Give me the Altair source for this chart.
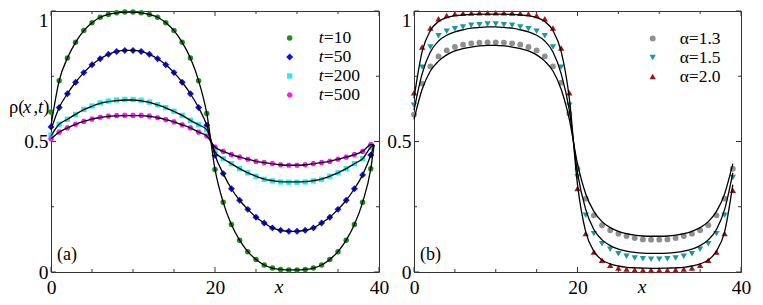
import altair as alt
import pandas as pd

FONT = "Liberation Serif"

# ---------------- data: panel (a) ----------------
x_pts = list(range(40))
x_line_a = list(range(40)) + [39.4]

t_names = ["t10", "t50", "t200", "t500"]
t_labels = ["=10", "=50", "=200", "=500"]

rho_t10 = [0.613, 0.733, 0.820, 0.880, 0.925, 0.955, 0.976, 0.987, 0.993, 0.996,
           0.996, 0.993, 0.987, 0.976, 0.955, 0.925, 0.880, 0.820, 0.733, 0.607,
           0.393, 0.267, 0.182, 0.122, 0.078, 0.048, 0.027, 0.015, 0.010, 0.008,
           0.008, 0.010, 0.015, 0.027, 0.048, 0.078, 0.122, 0.182, 0.267, 0.396]
rho_t50 = [0.556, 0.630, 0.683, 0.727, 0.764, 0.794, 0.817, 0.834, 0.845, 0.849,
           0.849, 0.845, 0.834, 0.817, 0.794, 0.764, 0.727, 0.683, 0.630, 0.562,
           0.447, 0.377, 0.319, 0.275, 0.240, 0.210, 0.188, 0.169, 0.160, 0.156,
           0.156, 0.160, 0.169, 0.188, 0.210, 0.240, 0.275, 0.319, 0.372, 0.448]
rho_t200 = [0.525, 0.566, 0.585, 0.604, 0.623, 0.636, 0.648, 0.655, 0.659, 0.661,
            0.661, 0.658, 0.651, 0.641, 0.630, 0.616, 0.600, 0.581, 0.564, 0.545,
            0.460, 0.434, 0.415, 0.396, 0.380, 0.367, 0.355, 0.349, 0.345, 0.344,
            0.344, 0.345, 0.349, 0.355, 0.367, 0.380, 0.396, 0.415, 0.434, 0.478]
rho_t500 = [0.510, 0.536, 0.552, 0.566, 0.577, 0.586, 0.593, 0.597, 0.599, 0.600,
            0.600, 0.600, 0.597, 0.591, 0.584, 0.575, 0.564, 0.552, 0.536, 0.521,
            0.479, 0.462, 0.450, 0.440, 0.432, 0.424, 0.419, 0.415, 0.411, 0.409,
            0.409, 0.411, 0.415, 0.419, 0.424, 0.432, 0.440, 0.450, 0.462, 0.488]

line_t10 = [0.560, 0.733, 0.820, 0.880, 0.925, 0.955, 0.976, 0.987, 0.993, 0.996,
            0.996, 0.993, 0.987, 0.976, 0.955, 0.925, 0.880, 0.820, 0.733, 0.607,
            0.393, 0.267, 0.182, 0.122, 0.078, 0.048, 0.027, 0.015, 0.010, 0.008,
            0.008, 0.010, 0.015, 0.027, 0.048, 0.078, 0.122, 0.182, 0.267, 0.396, 0.487]
line_t50 = [0.545, 0.630, 0.683, 0.727, 0.764, 0.794, 0.817, 0.834, 0.845, 0.849,
            0.849, 0.845, 0.834, 0.817, 0.794, 0.764, 0.727, 0.683, 0.630, 0.562,
            0.447, 0.377, 0.319, 0.275, 0.240, 0.210, 0.188, 0.169, 0.160, 0.156,
            0.156, 0.160, 0.169, 0.188, 0.210, 0.240, 0.275, 0.319, 0.372, 0.448, 0.487]
line_t200 = [0.522, 0.566, 0.585, 0.604, 0.622, 0.635, 0.646, 0.653, 0.657, 0.659,
             0.659, 0.656, 0.650, 0.640, 0.629, 0.615, 0.600, 0.581, 0.564, 0.545,
             0.460, 0.434, 0.415, 0.396, 0.380, 0.367, 0.356, 0.350, 0.346, 0.345,
             0.345, 0.346, 0.350, 0.356, 0.367, 0.380, 0.396, 0.415, 0.434, 0.478, 0.487]
line_t500 = [0.510, 0.536, 0.552, 0.566, 0.577, 0.586, 0.592, 0.596, 0.598, 0.599,
             0.599, 0.599, 0.596, 0.591, 0.584, 0.575, 0.564, 0.552, 0.536, 0.521,
             0.479, 0.462, 0.450, 0.440, 0.432, 0.424, 0.419, 0.415, 0.411, 0.409,
             0.409, 0.411, 0.415, 0.419, 0.424, 0.432, 0.440, 0.450, 0.462, 0.488, 0.489]

# ---------------- data: panel (b) ----------------
a_names = ["a13", "a15", "a20"]
a_labels = ["\u03b1=1.3", "\u03b1=1.5", "\u03b1=2.0"]

rho_a13 = [0.603, 0.722, 0.788, 0.826, 0.849, 0.862, 0.871, 0.876, 0.879, 0.880,
           0.880, 0.879, 0.876, 0.871, 0.862, 0.849, 0.826, 0.788, 0.725, 0.607,
           0.396, 0.281, 0.217, 0.179, 0.160, 0.147, 0.138, 0.130, 0.125, 0.124,
           0.124, 0.125, 0.130, 0.138, 0.147, 0.160, 0.179, 0.217, 0.281, 0.396]
rho_a15 = [0.639, 0.785, 0.862, 0.905, 0.922, 0.932, 0.939, 0.945, 0.947, 0.950,
           0.950, 0.947, 0.945, 0.939, 0.932, 0.922, 0.905, 0.862, 0.785, 0.639,
           0.364, 0.217, 0.147, 0.108, 0.087, 0.070, 0.060, 0.054, 0.051, 0.049,
           0.049, 0.051, 0.054, 0.060, 0.070, 0.087, 0.108, 0.147, 0.217, 0.362]
rho_a20 = [0.687, 0.862, 0.935, 0.970, 0.983, 0.989, 0.991, 0.992, 0.993, 0.993,
           0.993, 0.993, 0.992, 0.991, 0.989, 0.983, 0.970, 0.935, 0.858, 0.687,
           0.320, 0.147, 0.077, 0.045, 0.026, 0.015, 0.011, 0.009, 0.008, 0.008,
           0.008, 0.008, 0.009, 0.011, 0.015, 0.026, 0.045, 0.077, 0.147, 0.313]

line_a13 = [0.585, 0.700, 0.770, 0.808, 0.832, 0.847, 0.856, 0.862, 0.866, 0.868,
            0.868, 0.866, 0.862, 0.856, 0.847, 0.832, 0.808, 0.770, 0.700, 0.585,
            0.415, 0.300, 0.232, 0.193, 0.170, 0.156, 0.147, 0.141, 0.138, 0.137,
            0.137, 0.138, 0.141, 0.147, 0.156, 0.170, 0.193, 0.232, 0.300, 0.415]
line_a15 = [0.620, 0.760, 0.843, 0.885, 0.907, 0.920, 0.928, 0.934, 0.937, 0.939,
            0.939, 0.937, 0.934, 0.928, 0.920, 0.907, 0.885, 0.843, 0.760, 0.620,
            0.380, 0.240, 0.163, 0.123, 0.101, 0.088, 0.080, 0.075, 0.072, 0.071,
            0.071, 0.072, 0.075, 0.080, 0.088, 0.101, 0.123, 0.163, 0.240, 0.380]
line_a20 = [0.665, 0.845, 0.925, 0.960, 0.975, 0.982, 0.985, 0.987, 0.988, 0.988,
            0.988, 0.988, 0.987, 0.985, 0.982, 0.975, 0.960, 0.925, 0.845, 0.665,
            0.335, 0.155, 0.080, 0.046, 0.031, 0.023, 0.018, 0.016, 0.015, 0.014,
            0.014, 0.015, 0.016, 0.018, 0.023, 0.031, 0.046, 0.080, 0.155, 0.335]

x_major = [0, 20, 40]
x_minor = [5, 10, 15, 25, 30, 35]
y_major = [0, 0.5, 1]
y_minor = [0.25, 0.75]

# ---------------- styles ----------------
HEX = "M-1,0L-0.5,-0.866L0.5,-0.866L1,0L0.5,0.866L-0.5,0.866Z"
style_a = {
    "t10": ("circle", "#1e8c1e", 30),
    "t50": ("diamond", "#1010ee", 48),
    "t200": ("square", "#2ee8e8", 28),
    "t500": (HEX, "#f01ef0", 36),
}
style_b = {
    "a13": ("circle", "#8f8f8f", 34),
    "a15": ("triangle-down", "#179a9a", 40),
    "a20": ("triangle-up", "#a31515", 40),
}

H = 261
FS_TICK = 19.5
FS_LEG = 17.5

xscale = alt.Scale(domain=[0, 40], nice=False, zero=False)
yscale = alt.Scale(domain=[0, 1], nice=False, zero=False)

xaxis = alt.Axis(values=x_major, format="d", ticks=False, tickSize=0, domain=False,
                 grid=False, title=None, labelFont=FONT, labelFontSize=FS_TICK,
                 labelColor="black", labelPadding=21, labelBaseline="alphabetic",
                 labelFlush=False)
yaxis = alt.Axis(values=y_major, format="~g", ticks=False, tickSize=0, domain=False,
                 grid=False, title=None, labelFont=FONT, labelFontSize=FS_TICK,
                 labelColor="black", labelPadding=3,
                 labelBaseline={"condition": {"test": "datum.value == 1", "value": "top"},
                                "value": "middle"})


def one(text="_"):
    return pd.DataFrame({"t": [text]})


def panel(width, pts, lines, xs_line, names, style, legend_layers, tag):
    layers = []
    tick_col = "#333333"
    for vals, ln in ((x_major, 5), (x_minor, 3)):
        df = pd.DataFrame({"v": vals})
        layers.append(alt.Chart(df).mark_rule(color=tick_col, strokeWidth=1).encode(
            x=alt.X("v:Q", scale=xscale, axis=xaxis), y=alt.value(H), y2=alt.value(H - ln)))
        layers.append(alt.Chart(df).mark_rule(color=tick_col, strokeWidth=1).encode(
            x=alt.X("v:Q", scale=xscale, axis=xaxis), y=alt.value(0), y2=alt.value(ln)))
    for vals, ln in ((y_major, 5), (y_minor, 3)):
        df = pd.DataFrame({"v": vals})
        layers.append(alt.Chart(df).mark_rule(color=tick_col, strokeWidth=1).encode(
            y=alt.Y("v:Q", scale=yscale, axis=yaxis), x=alt.value(0), x2=alt.value(ln)))
        layers.append(alt.Chart(df).mark_rule(color=tick_col, strokeWidth=1).encode(
            y=alt.Y("v:Q", scale=yscale, axis=yaxis), x=alt.value(width), x2=alt.value(width - ln)))
    for name, vals in zip(names, pts):
        shp, col, sz = style[name]
        df = pd.DataFrame({"x": x_pts, "y": vals})
        layers.append(alt.Chart(df).mark_point(filled=True, opacity=1, shape=shp, color=col,
                                               size=sz, strokeWidth=0).encode(
            x=alt.X("x:Q", scale=xscale, axis=xaxis),
            y=alt.Y("y:Q", scale=yscale, axis=yaxis)))
    for name, vals in zip(names, lines):
        df = pd.DataFrame({"x": xs_line, "y": vals})
        layers.append(alt.Chart(df).mark_line(color="black", strokeWidth=1.3,
                                              interpolate="monotone").encode(
            x=alt.X("x:Q", scale=xscale, axis=xaxis),
            y=alt.Y("y:Q", scale=yscale, axis=yaxis)))
    layers.append(alt.Chart(one("x")).mark_text(font=FONT, fontSize=FS_TICK, fontStyle="italic",
                                                 align="center", baseline="alphabetic",
                                                 color="black").encode(
        text="t:N", x=alt.value(228), y=alt.value(H + 21)))
    layers.append(alt.Chart(one(tag)).mark_text(font=FONT, fontSize=18, align="left",
                                                 baseline="alphabetic", color="black").encode(
        text="t:N", x=alt.value(6), y=alt.value(249)))
    layers += legend_layers
    return alt.layer(*layers).properties(width=width, height=H)


leg_a = []
for i, name in enumerate(t_names):
    shp, col, sz = style_a[name]
    yy = 27 + 19 * i
    leg_a.append(alt.Chart(one()).mark_point(filled=True, opacity=1, shape=shp, color=col,
                                              size=sz, strokeWidth=0).encode(
        x=alt.value(238.7), y=alt.value(yy)))
    leg_a.append(alt.Chart(one("t")).mark_text(font=FONT, fontSize=FS_LEG, fontStyle="italic",
                                                align="left", baseline="middle",
                                                color="black").encode(
        text="t:N", x=alt.value(267.7), y=alt.value(yy)))
    leg_a.append(alt.Chart(one(t_labels[i])).mark_text(font=FONT, fontSize=FS_LEG,
                                                        align="left", baseline="middle",
                                                        color="black").encode(
        text="t:N", x=alt.value(272.8), y=alt.value(yy)))
rho_parts = [("\u03c1(", "normal", 0.0), ("x", "italic", 14.0), (",", "normal", 24.6),
             ("t", "italic", 29.0), (")", "normal", 34.2)]
for txt, st, dx in rho_parts:
    leg_a.append(alt.Chart(one(txt)).mark_text(font=FONT, fontSize=18.5, fontStyle=st,
                                                align="left", baseline="alphabetic",
                                                color="black").encode(
        text="t:N", x=alt.value(-42 + dx), y=alt.value(102)))

leg_b = []
for i, name in enumerate(a_names):
    shp, col, sz = style_b[name]
    yy = 27.5 + 19 * i
    leg_b.append(alt.Chart(one()).mark_point(filled=True, opacity=1, shape=shp, color=col,
                                              size=sz, strokeWidth=0).encode(
        x=alt.value(238.7), y=alt.value(yy)))
    leg_b.append(alt.Chart(one(a_labels[i])).mark_text(font=FONT, fontSize=FS_LEG,
                                                        align="left", baseline="middle",
                                                        color="black").encode(
        text="t:N", x=alt.value(265.7), y=alt.value(yy)))

pa = panel(328, [rho_t10, rho_t50, rho_t200, rho_t500],
           [line_t10, line_t50, line_t200, line_t500], x_line_a, t_names, style_a, leg_a, "(a)")
pb = panel(327, [rho_a13, rho_a15, rho_a20],
           [line_a13, line_a15, line_a20], x_pts, a_names, style_b, leg_b, "(b)")

chart = alt.hconcat(pa, pb, spacing=35, bounds="flush").properties(
    padding={"left": 0, "top": 0, "right": 0, "bottom": 0},
    background="white",
).configure_view(stroke="#333333", strokeWidth=1)

chart.save("out.html", embed_options={"renderer": "svg", "actions": False})
